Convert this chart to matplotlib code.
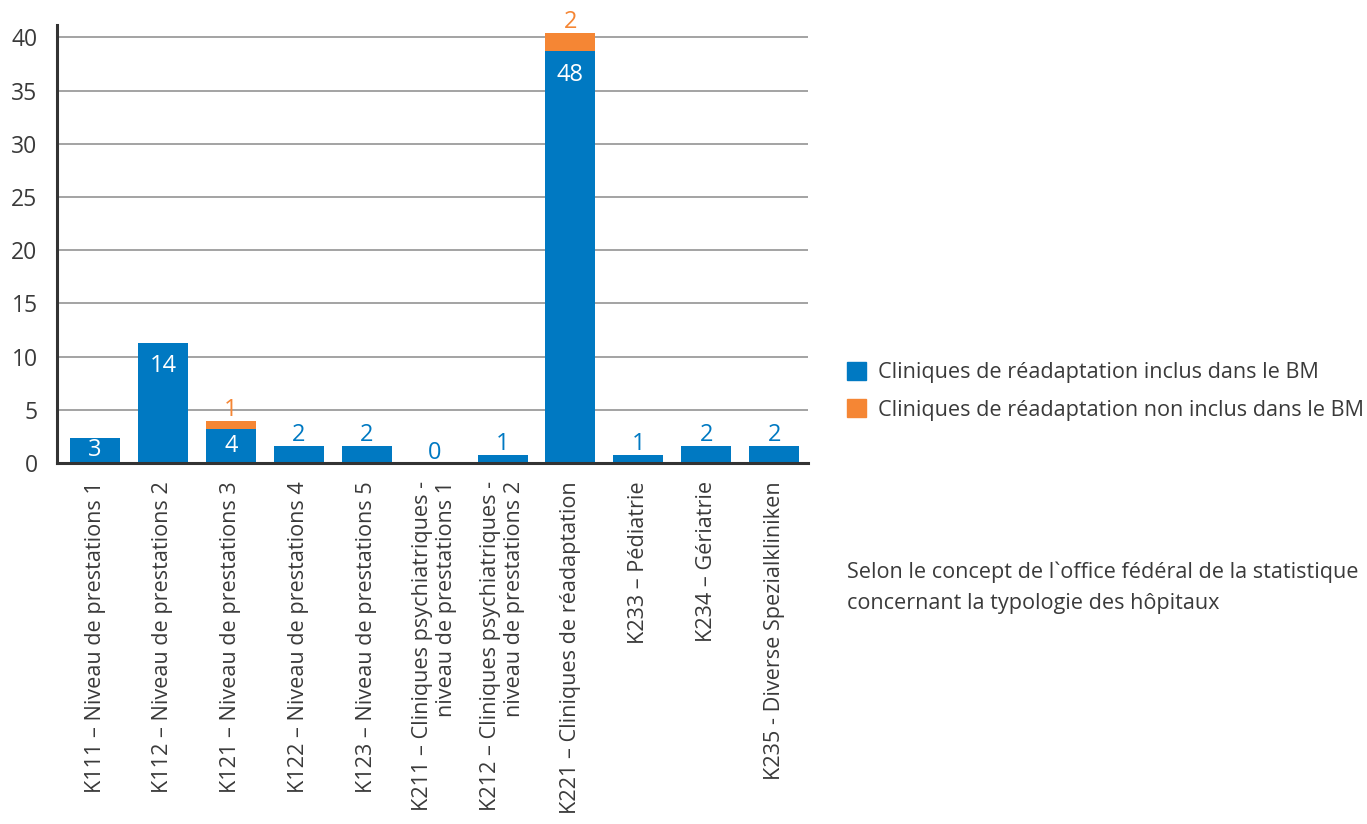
import matplotlib
matplotlib.use("Agg")
import matplotlib.pyplot as plt
from matplotlib.patches import Patch

plt.rcParams['font.family'] = ['Open Sans', 'DejaVu Sans']

categories = [
    "K111 – Niveau de prestations 1",
    "K112 – Niveau de prestations 2",
    "K121 – Niveau de prestations 3",
    "K122 – Niveau de prestations 4",
    "K123 – Niveau de prestations 5",
    "K211 – Cliniques psychiatriques -\nniveau de prestations 1",
    "K212 – Cliniques psychiatriques -\nniveau de prestations 2",
    "K221 – Cliniques de réadaptation",
    "K233 – Pédiatrie",
    "K234 – Gériatrie",
    "K235 - Diverse Spezialkliniken",
]
# bar heights as drawn in the picture (axis scale)
inclus_height = [2.4, 11.3, 3.2, 1.65, 1.65, 0, 0.8, 38.7, 0.8, 1.65, 1.65]
non_inclus_height = [0, 0, 0.75, 0, 0, 0, 0, 1.7, 0, 0, 0]
# numbers printed on the bars
inclus_label = [3, 14, 4, 2, 2, 0, 1, 48, 1, 2, 2]
non_inclus_label = [None, None, 1, None, None, None, None, 2, None, None, None]
label_inside = [True, True, True, False, False, False, False, True, False, False, False]

legend_labels = ["Cliniques de réadaptation inclus dans le BM",
                 "Cliniques de réadaptation non inclus dans le BM"]
note = "Selon le concept de l`office fédéral de la statistique\nconcernant la typologie des hôpitaux"

blue = '#0079c2'
orange = '#f58634'
txt = '#3a3a3a'

fig = plt.figure(figsize=(13.67, 8.24), dpi=100)
ax = fig.add_axes([0.0417, 0.438, 0.5495, 0.532])

x = list(range(len(categories)))
w = 0.735
ax.bar(x, inclus_height, width=w, color=blue, zorder=3)
ax.bar(x, non_inclus_height, width=w, bottom=inclus_height, color=orange, zorder=3)

for i in x:
    h = inclus_height[i]
    if label_inside[i]:
        ax.text(i, max(h - 2.2, h / 2), str(inclus_label[i]), color='white',
                ha='center', va='center', fontsize=17, zorder=4)
    else:
        ax.annotate(str(inclus_label[i]), (i, h), xytext=(0, 3), textcoords='offset points',
                    color=blue, ha='center', va='baseline', fontsize=17, zorder=4)
    if non_inclus_label[i] is not None:
        ax.annotate(str(non_inclus_label[i]), (i, h + non_inclus_height[i]), xytext=(0, 4),
                    textcoords='offset points', color=orange, ha='center',
                    va='baseline', fontsize=17, zorder=4)

ax.set_xlim(-0.56, 10.5)
ax.set_ylim(0, 41.2)
ax.set_yticks(range(0, 41, 5))
ax.yaxis.grid(True, color='#a3a3a3', linewidth=1.4, zorder=0)
ax.set_axisbelow(True)
ax.tick_params(axis='y', length=0, pad=14, labelsize=16.5, labelcolor=txt)
ax.tick_params(axis='x', length=0, pad=13)
ax.set_xticks(x)
ax.set_xticklabels(categories, rotation=90, ha='center', va='top',
                   multialignment='right', fontsize=15.6, color=txt)

for s in ['top', 'right']:
    ax.spines[s].set_visible(False)
for s in ['left', 'bottom']:
    ax.spines[s].set_linewidth(2.2)
    ax.spines[s].set_color('#333333')
    ax.spines[s].set_zorder(5)

handles = [Patch(color=blue), Patch(color=orange)]
fig.legend(handles, legend_labels, loc='upper left', bbox_to_anchor=(0.6195, 0.561),
           frameon=False, fontsize=15.6, handlelength=0.9, handleheight=0.9,
           handletextpad=0.55, labelspacing=0.75, borderpad=0, borderaxespad=0,
           labelcolor=txt)

fig.text(0.6195, 0.287, note, fontsize=15.6, color=txt, ha='left', va='center',
         linespacing=1.65)

fig.savefig('out.png', dpi=100)
